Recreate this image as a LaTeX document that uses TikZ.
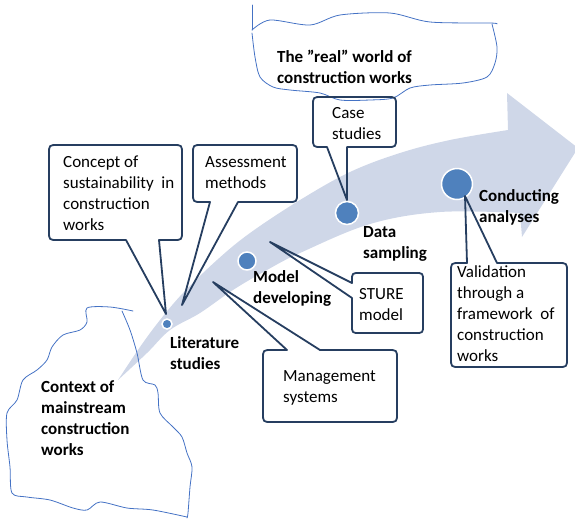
\documentclass[tikz,border=0pt]{standalone}
\usepackage{fontspec}
\setmainfont{Carlito}
\definecolor{bandc}{RGB}{207,215,232}
\definecolor{dotc}{RGB}{79,129,189}
\definecolor{cobord}{RGB}{38,62,96}
\definecolor{sketchc}{RGB}{68,114,196}
\begin{document}
\begin{tikzpicture}[x=1pt,y=-1pt,
  co/.style={draw=cobord, line width=1.8pt, line join=round},
  txt/.style={font=\fontsize{17}{21}\selectfont, anchor=base west, inner sep=0pt, align=left},
  btxt/.style={font=\fontsize{17}{21}\selectfont\bfseries, anchor=base west, inner sep=0pt, align=left},
  sk/.style={draw=sketchc, line width=0.8pt, line join=round, line cap=round},
  dotst/.style={circle, fill=dotc, draw=white, line width=1.5pt, inner sep=0pt}]
\useasboundingbox (0,0) rectangle (575,520);

% curved arrow band
\fill[bandc] plot[smooth, tension=0.6] coordinates {(118,380) (140,347) (160,320) (183,293) (217,260) (250,233) (300,200) (350,172) (400,153) (450,140) (508,130)}
  -- (507,93) -- (578,148) -- (522,237) -- (520,213)
  -- plot[smooth, tension=0.6] coordinates {(520,213) (440,212) (370,224) (300,253) (267,270) (233,290) (200,313) (170,330) (147,353) (118,380)} -- cycle;

% hand-drawn outlines
\draw[sk] (252,5) -- (252,30);
\draw[sk] plot[smooth, tension=0.5] coordinates {(252,30) (270,20) (310,25) (340,15) (390,13) (430,22) (490,23) (497,24)};
\draw[sk] plot[smooth, tension=0.5] coordinates {(492,24) (497,47) (495,63) (487,77) (463,83) (430,85) (410,88) (393,98) (370,100) (340,100) (320,93) (290,90) (273,87) (260,77) (255,57) (252,33)};

\draw[sk] plot[smooth, tension=0.5] coordinates {(133,311) (110,307) (87,308) (87,322) (80,330) (63,335) (52,347) (47,360) (37,370) (23,380) (17,400) (7,413) (7,440) (10,467) (12,493) (27,497) (50,500) (73,508) (87,510) (100,502) (127,508) (153,510) (187,517)};
\draw[sk] plot[smooth, tension=0.5] coordinates {(122,311) (130,330) (137,353) (143,380) (155,385) (158,393) (160,413) (173,427) (182,437) (187,453) (192,467) (190,487) (188,513) (187,518)};

% dots
\node[dotst, minimum size=10pt] (dlit) at (167,324) {};
\node[dotst, minimum size=18pt] (dmod) at (247,261) {};
\node[dotst, minimum size=23pt] (ddat) at (347,213) {};
\node[dotst, minimum size=31pt] (dcon) at (457,184) {};

% callouts
\draw[co] (166,314) -- (126,240) -- (58,240) .. controls (49,240) .. (49,231) -- (49,154) .. controls (49,145) .. (58,145) -- (173,145) .. controls (182,145) .. (182,154) -- (182,231) .. controls (182,240) .. (173,240) -- (159,240) -- cycle;
\draw[co] (182,305) -- (210,202) -- (202,202) .. controls (193,202) .. (193,193) -- (193,154) .. controls (193,145) .. (202,145) -- (288,145) .. controls (297,145) .. (297,154) -- (297,193) .. controls (297,202) .. (288,202) -- (238,202) -- cycle;
\draw[co] (347,200) -- (327,147) -- (322,147) .. controls (313,147) .. (313,138) -- (313,106) .. controls (313,97) .. (322,97) -- (387,97) .. controls (396,97) .. (396,106) -- (396,138) .. controls (396,147) .. (387,147) -- (347,147) -- cycle;
\draw[co] (270,242) -- (352,298) -- (352,325) .. controls (352,333) .. (360,333) -- (415,333) .. controls (423,333) .. (423,325) -- (423,281) .. controls (423,273) .. (415,273) -- (360,273) .. controls (352,273) .. (352,281) -- (352,283) -- cycle;
\draw[co] (213,282) -- (320,350) -- (388,350) .. controls (397,350) .. (397,359) -- (397,413) .. controls (397,422) .. (388,422) -- (272,422) .. controls (263,422) .. (263,413) -- (263,359) .. controls (263,350) .. (272,350) -- (287,350) -- cycle;
\draw[co] (465,196) -- (497,263) -- (558,263) .. controls (567,263) .. (567,272) -- (567,358) .. controls (567,367) .. (558,367) -- (460,367) .. controls (451,367) .. (451,358) -- (451,272) .. controls (451,263) .. (460,263) -- (467,263) -- cycle;

% texts (anchor = baseline of last line)
\node[btxt] (treal) at (277,83.5) {The ”real” world of\\construction works};
\node[btxt] (tctx) at (41,455) {Context of\\mainstream\\construction\\works};
\node[btxt] (tlit) at (170,369) {Literature\\studies};
\node[btxt] (tmod) at (253,303) {Model\\developing};
\node[btxt] (tdat) at (363,258) {Data\\sampling};
\node[btxt] (tcon) at (479,222) {Conducting\\analyses};
\node[txt] (tconcept) at (63,230) {Concept of\\sustainability\ \ in\\construction\\works};
\node[txt] (tass) at (205,188) {Assessment\\methods};
\node[txt] (tcase) at (332,139) {Case\\studies};
\node[txt] (tsture) at (359,320) {STURE\\model};
\node[txt] (tman) at (283,402) {Management\\systems};
\node[txt] (tval) at (457,361) {Validation\\through a\\framework\ \ of\\construction\\works};
\end{tikzpicture}
\end{document}
